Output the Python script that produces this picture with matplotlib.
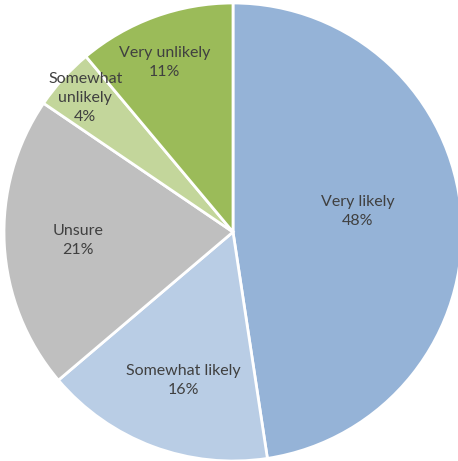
import numpy as np
import matplotlib
matplotlib.use("Agg")
import matplotlib.pyplot as plt

categories = ["Very likely", "Somewhat likely", "Unsure", "Somewhat\nunlikely", "Very unlikely"]
values = [47.6, 16.2, 20.7, 4.4, 11.1]
colors = ["#95B3D7", "#B9CDE5", "#BFBFBF", "#C3D69B", "#9BBB59"]
label_r = [0.553, 0.686, 0.678, 0.87, 0.80]
label_dang = [5, 2, 0, 0, 2]

plt.rcParams['font.family'] = ['Lato', 'DejaVu Sans']

fig = plt.figure(figsize=(4.58, 4.61), dpi=100)
ax = fig.add_axes([0, 0, 1, 1])
R = 229.0

wedges, _ = ax.pie(values, colors=colors, startangle=90, counterclock=False,
                   radius=1.0, wedgeprops=dict(edgecolor='white', linewidth=2))
ax.set_xlim(-233 / R, 225 / R)
ax.set_ylim(-229 / R, 232 / R)
ax.set_aspect('equal')
ax.axis('off')

for w, cat, v, r, da in zip(wedges, categories, values, label_r, label_dang):
    ang = np.deg2rad((w.theta1 + w.theta2) / 2 + da)
    ax.text(r * np.cos(ang), r * np.sin(ang), f"{cat}\n{round(v):d}%", ha='center', va='center',
            fontsize=11.5, color='#404040', linespacing=1.45)

fig.savefig("out.png", dpi=100)
